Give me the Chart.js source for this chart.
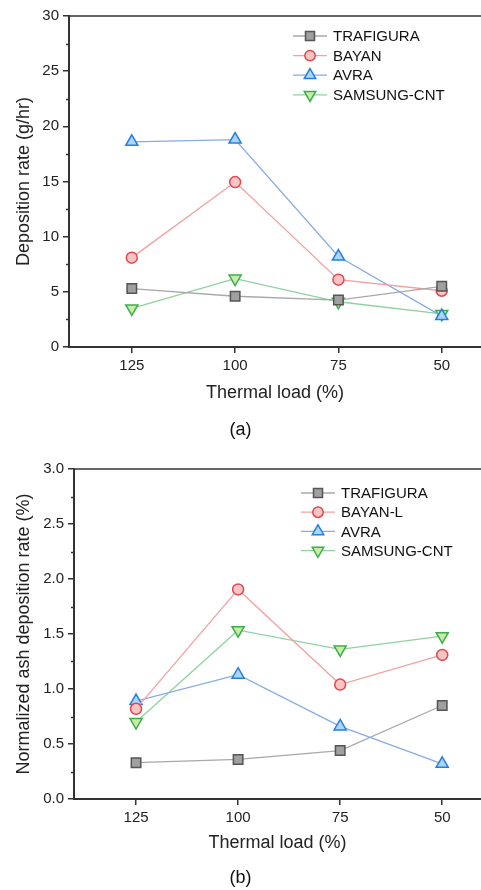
<!DOCTYPE html>
<html>
<head>
<meta charset="utf-8">
<script src="https://cdn.jsdelivr.net/npm/chart.js@4.4.1/dist/chart.umd.min.js"></script>
<style>
  html, body { margin: 0; padding: 0; background: #fff; overflow: hidden; }
  .panel { position: relative; width: 481px; height: 445px; }
  .caption { position: absolute; left: 0; width: 481px; text-align: center;
             font: 18px "Liberation Sans", Arial, sans-serif; color: #111; }
</style>
</head>
<body>
<div class="panel"><canvas id="chartA" width="481" height="445"></canvas><div class="caption" style="top:419px">(a)</div></div>
<div class="panel"><canvas id="chartB" width="481" height="445"></canvas><div class="caption" style="top:422px">(b)</div></div>
<script>
// thermal load categories (x axis is reversed: 125 on the left)
const loads = [125, 100, 75, 50];
const loadTicks = [125, 100, 75, 50];

// (a) deposition rate, g/hr
const depTrafigura = [5.3, 4.6, 4.25, 5.5];
const depBayan = [8.1, 14.95, 6.1, 5.1];
const depAvra = [18.6, 18.8, 8.2, 2.8];
const depSamsung = [3.5, 6.2, 4.1, 3.0];

// (b) normalized ash deposition rate, %
const normTrafigura = [0.33, 0.36, 0.44, 0.85];
const normBayan = [0.82, 1.905, 1.04, 1.31];
const normAvra = [0.89, 1.13, 0.66, 0.32];
const normSamsung = [0.70, 1.535, 1.36, 1.48];

const FONT = '"Liberation Sans", Arial, sans-serif';

const styles = [
  { line: '#a8a8a8', fill: '#a0a0a0', border: '#555555', point: 'rect', radius: 6.7, rot: 0 },
  { line: '#f2a0a0', fill: '#f8c4c4', border: '#e5454d', point: 'circle', radius: 5.5, rot: 0 },
  { line: '#86abe6', fill: '#acd6f8', border: '#2480e0', point: 'triangle', radius: 7, rot: 0 },
  { line: '#8ed2a0', fill: '#c8eca8', border: '#3cae4c', point: 'triangle', radius: 7, rot: 180 }
];

function makeSet(label, values, s) {
  return {
    label: label,
    data: loads.map((x, i) => ({ x: x, y: values[i] })),
    borderColor: s.line,
    borderWidth: 1.3,
    pointStyle: s.point,
    pointRadius: s.radius,
    pointRotation: s.rot,
    pointBackgroundColor: s.fill,
    pointBorderColor: s.border,
    pointBorderWidth: 1.5,
    tension: 0
  };
}

// legend, minor ticks and top frame line
const decor = {
  id: 'decor',
  afterDatasetsDraw(chart, args, opts) {
    const ctx = chart.ctx;
    const ya = chart.scales.y, area = chart.chartArea;
    ctx.save();
    ctx.strokeStyle = '#333';
    ctx.lineWidth = 1.5;
    ctx.beginPath();
    ctx.moveTo(area.left, area.top);
    ctx.lineTo(area.right, area.top);
    ctx.stroke();
    // minor ticks
    ctx.lineWidth = 1.5;
    for (let v = ya.min + opts.minor; v < ya.max; v += opts.minor * 2) {
      const py = Math.round(ya.getPixelForValue(v)) + 0.5;
      ctx.beginPath();
      ctx.moveTo(area.left - 3, py);
      ctx.lineTo(area.left, py);
      ctx.stroke();
    }
    // legend
    ctx.font = '15px ' + FONT;
    ctx.textBaseline = 'middle';
    ctx.fillStyle = '#111';
    chart.data.datasets.forEach((ds, i) => {
      const y = opts.y + i * opts.gap;
      const x = opts.x;
      ctx.strokeStyle = ds.borderColor;
      ctx.lineWidth = 1.3;
      ctx.beginPath();
      ctx.moveTo(x, y);
      ctx.lineTo(x + opts.len, y);
      ctx.stroke();
      ctx.save();
      ctx.fillStyle = ds.pointBackgroundColor;
      ctx.strokeStyle = ds.pointBorderColor;
      ctx.lineWidth = 1.5;
      const r = ds.pointRadius * 0.95;
      Chart.helpers.drawPoint(ctx, { pointStyle: ds.pointStyle, radius: r, rotation: ds.pointRotation, borderWidth: 1.5 }, x + opts.len / 2, y);
      ctx.restore();
      ctx.fillStyle = '#111';
      ctx.fillText(ds.label, x + opts.len + 6, y + 1);
    });
    ctx.restore();
  }
};

function build(id, sets, cfg) {
  return new Chart(document.getElementById(id), {
    type: 'line',
    data: { datasets: sets },
    plugins: [decor],
    options: {
      responsive: false,
      animation: false,
      layout: { autoPadding: false, padding: { top: cfg.top, left: 0, right: 0, bottom: 0 } },
      plugins: {
        legend: { display: false },
        tooltip: { enabled: false },
        decor: cfg.legend
      },
      scales: {
        x: {
          type: 'linear',
          reverse: true,
          min: 40.5,
          max: 140.2,
          afterBuildTicks: s => { s.ticks = loadTicks.map(v => ({ value: v })); },
          afterFit: s => { s.height = cfg.xHeight; s.paddingLeft = 0; s.paddingRight = 0; },
          border: { color: '#333', width: 2 },
          grid: { drawOnChartArea: false, color: '#333', tickLength: 6, lineWidth: 1.5 },
          ticks: { color: '#222', font: { family: FONT, size: 15 }, padding: 4, maxRotation: 0 },
          title: { display: true, text: 'Thermal load (%)', color: '#222',
                   font: { family: FONT, size: 18 }, padding: { top: 0, bottom: cfg.xTitlePad } }
        },
        y: {
          min: cfg.yMin,
          max: cfg.yMax,
          afterFit: s => { s.width = cfg.yWidth; s.paddingTop = 0; s.paddingBottom = 0; },
          border: { color: '#333', width: 2 },
          grid: { drawOnChartArea: false, color: '#333', tickLength: 6, lineWidth: 1.5 },
          ticks: { stepSize: cfg.step, color: '#222', font: { family: FONT, size: 15 }, padding: 4,
                   callback: cfg.fmt },
          title: { display: true, text: cfg.yTitle, color: '#222',
                   font: { family: FONT, size: 18 }, padding: { top: 13, bottom: 0 } }
        }
      }
    }
  });
}

build('chartA', [
  makeSet('TRAFIGURA', depTrafigura, styles[0]),
  makeSet('BAYAN', depBayan, styles[1]),
  makeSet('AVRA', depAvra, styles[2]),
  makeSet('SAMSUNG-CNT', depSamsung, styles[3])
], {
  top: 16, xHeight: 98, yWidth: 69, xTitlePad: 41, yMin: 0, yMax: 30, step: 5,
  fmt: v => v, yTitle: 'Deposition rate (g/hr)',
  legend: { x: 293, y: 36, gap: 19.6, len: 34, minor: 2.5 }
});

build('chartB', [
  makeSet('TRAFIGURA', normTrafigura, styles[0]),
  makeSet('BAYAN-L', normBayan, styles[1]),
  makeSet('AVRA', normAvra, styles[2]),
  makeSet('SAMSUNG-CNT', normSamsung, styles[3])
], {
  top: 24, xHeight: 91, yWidth: 74, xTitlePad: 36, yMin: 0, yMax: 3, step: 0.5,
  fmt: v => v.toFixed(1), yTitle: 'Normalized ash deposition rate (%)',
  legend: { x: 301, y: 48, gap: 19.2, len: 34, minor: 0.25 }
});
</script>
</body>
</html>
